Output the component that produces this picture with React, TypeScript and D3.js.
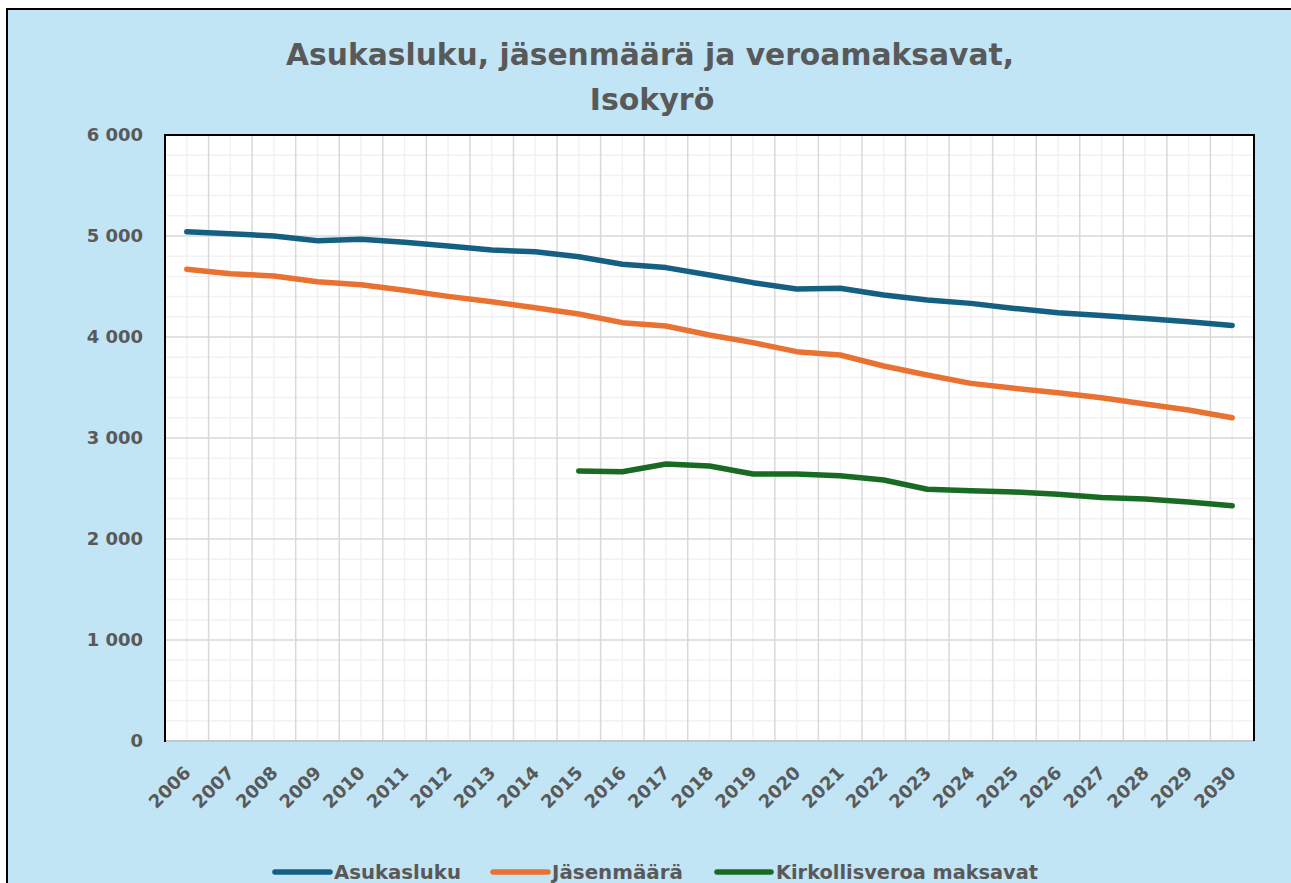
import React from "react";
import * as d3 from "d3";

const years = ["2006","2007","2008","2009","2010","2011","2012","2013","2014","2015","2016","2017","2018","2019","2020","2021","2022","2023","2024","2025","2026","2027","2028","2029","2030"];

const asukasluku = [5042, 5022, 5000, 4954, 4967, 4937, 4901, 4861, 4845, 4795, 4720, 4687, 4614, 4538, 4475, 4482, 4416, 4366, 4333, 4283, 4240, 4213, 4183, 4150, 4115];
const jasenmaara = [4670, 4626, 4604, 4548, 4518, 4462, 4402, 4350, 4290, 4228, 4142, 4109, 4020, 3944, 3855, 3822, 3713, 3624, 3541, 3492, 3448, 3399, 3337, 3277, 3201];
const veroaMaksavat: (number | null)[] = [null, null, null, null, null, null, null, null, null, 2673, 2666, 2743, 2723, 2644, 2644, 2627, 2584, 2492, 2478, 2465, 2442, 2412, 2396, 2366, 2330];

const yTicks = [0, 1000, 2000, 3000, 4000, 5000, 6000];

const seriesNames = ["Asukasluku", "Jäsenmäärä", "Kirkollisveroa maksavat"];
const seriesColors = ["#156082", "#E97132", "#196B24"];

export default function App() {
  const W = 1291, H = 883;
  const left = 165, right = 1254, top = 135, bottom = 741;
  const x = d3.scaleBand<string>().domain(years).range([left, right]).padding(0);
  const y = d3.scaleLinear().domain([0, 6000]).range([bottom, top]);
  const cx = (yr: string) => (x(yr) as number) + x.bandwidth() / 2;

  const minorY = d3.range(0, 6001, 200).filter((v) => v % 1000 !== 0);
  const majorY = yTicks;
  const bounds = years.slice(1).map((yr) => x(yr) as number);

  const line = d3
    .line<number | null>()
    .defined((d) => d !== null)
    .x((_, i) => cx(years[i]))
    .y((d) => y(d as number));

  const series = [asukasluku, jasenmaara, veroaMaksavat];
  const fmt = (v: number) => d3.format(",")(v).replace(/,/g, " ");
  const textColor = "#595959";
  const font = "'DejaVu Sans', sans-serif";

  const legendItems = [
    { x1: 275, x2: 330, tx: 334, tl: 127 },
    { x1: 493, x2: 548, tx: 552, tl: 131 },
    { x1: 717, x2: 771, tx: 776, tl: 262 },
  ];

  return (
    <svg width={W} height={H} style={{ position: "absolute", left: 0, top: 0 }} fontFamily={font}>
      <rect x={0} y={0} width={W} height={H} fill="#ffffff" />
      <rect x={7} y={9} width={W + 20} height={H + 20} fill="#C1E5F5" stroke="#000" strokeWidth={2} />
      <text x={650} y={65} textAnchor="middle" fontSize={30} fontWeight="bold" fill={textColor} textLength={728} lengthAdjust="spacingAndGlyphs">
        Asukasluku, jäsenmäärä ja veroamaksavat,
      </text>
      <text x={652} y={110} textAnchor="middle" fontSize={30} fontWeight="bold" fill={textColor}>
        Isokyrö
      </text>

      <rect x={left} y={top} width={right - left} height={bottom - top} fill="#ffffff" />
      {minorY.map((v) => (
        <line key={"my" + v} x1={left} x2={right} y1={y(v)} y2={y(v)} stroke="#F2F2F2" strokeWidth={1.5} />
      ))}
      {years.map((yr) => (
        <line key={"mx" + yr} x1={cx(yr)} x2={cx(yr)} y1={top} y2={bottom} stroke="#F2F2F2" strokeWidth={1.5} />
      ))}
      {majorY.map((v) => (
        <line key={"My" + v} x1={left} x2={right} y1={y(v)} y2={y(v)} stroke="#D9D9D9" strokeWidth={1.5} />
      ))}
      {bounds.map((b, i) => (
        <line key={"Mx" + i} x1={b} x2={b} y1={top} y2={bottom} stroke="#D9D9D9" strokeWidth={1.5} />
      ))}
      <line x1={left} x2={right} y1={bottom} y2={bottom} stroke="#BFC8CF" strokeWidth={2} />
      <path d={`M${right},${bottom} L${right},${top} L${left},${top} L${left},${bottom + 1}`} fill="none" stroke="#000" strokeWidth={2} />

      {series.map((s, i) => (
        <path key={"s" + i} d={line(s) || ""} fill="none" stroke={seriesColors[i]} strokeWidth={5.5} strokeLinecap="round" strokeLinejoin="round" />
      ))}

      {yTicks.map((v) => (
        <text key={"yt" + v} x={143} y={y(v)} dy="0.36em" textAnchor="end" fontSize={18} fontWeight="bold" fill={textColor}>
          {fmt(v)}
        </text>
      ))}
      {years.map((yr) => (
        <text key={"xt" + yr} transform={`translate(${cx(yr) + 5},${774}) rotate(-45)`} textAnchor="end" fontSize={18} fontWeight="bold" fill={textColor}>
          {yr}
        </text>
      ))}

      {seriesNames.map((n, i) => (
        <g key={"lg" + i}>
          <line x1={legendItems[i].x1} x2={legendItems[i].x2} y1={872} y2={872} stroke={seriesColors[i]} strokeWidth={5.5} strokeLinecap="round" />
          <text x={legendItems[i].tx} y={879} fontSize={20} fontWeight="bold" fill={textColor} textLength={legendItems[i].tl} lengthAdjust="spacingAndGlyphs">
            {n}
          </text>
        </g>
      ))}
    </svg>
  );
}
